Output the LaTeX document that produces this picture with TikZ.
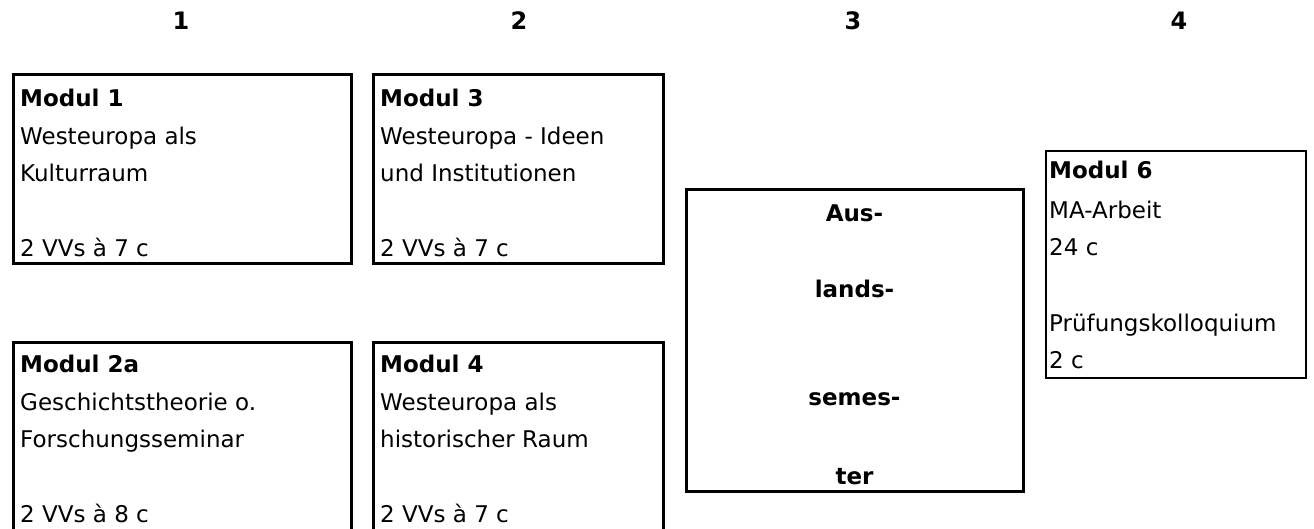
\documentclass[tikz,border=0pt]{standalone}
\usepackage{fontspec}
\setmainfont{DejaVu Sans}
\usepackage{tikz}

\tikzset{
    modbox/.style={draw, line width=3pt, inner sep=0pt, outer sep=0pt, anchor=north west},
    modtext/.style={anchor=north west, inner sep=0pt, align=left, font=\fontsize{23}{37.5}\selectfont},
    colnum/.style={inner sep=0pt, font=\fontsize{24}{28}\selectfont\bfseries}
}

\begin{document}
\begin{tikzpicture}[x=1pt, y=-1pt]
    \useasboundingbox (0,0) rectangle (1314,528);
    \clip (0,0) rectangle (1314,528);

    % semester numbers
    \node[colnum] (s1) at (181,21) {1};
    \node[colnum] (s2) at (519,21) {2};
    \node[colnum] (s3) at (853,21) {3};
    \node[colnum] (s4) at (1179,21) {4};

    % first row
    \node[modbox, minimum width=338pt, minimum height=189pt] (m1) at (13,74) {};
    \node[modtext] (t1) at ([xshift=7pt, yshift=-15pt]m1.north west)
        {\textbf{Modul 1}\\Westeuropa als\\Kulturraum\\[37.5pt]2 VVs à 7 c};

    \node[modbox, minimum width=290pt, minimum height=189pt] (m3) at (373,74) {};
    \node[modtext] (t3) at ([xshift=7pt, yshift=-15pt]m3.north west)
        {\textbf{Modul 3}\\Westeuropa - Ideen\\und Institutionen\\[37.5pt]2 VVs à 7 c};

    % second row
    \node[modbox, minimum width=338pt, minimum height=250pt] (m2a) at (13,342) {};
    \node[modtext] (t2a) at ([xshift=7pt, yshift=-13pt]m2a.north west)
        {\textbf{Modul 2a}\\Geschichtstheorie o.\\Forschungsseminar\\[37.5pt]2 VVs à 8 c};

    \node[modbox, minimum width=290pt, minimum height=250pt] (m4) at (373,342) {};
    \node[modtext] (t4) at ([xshift=7pt, yshift=-13pt]m4.north west)
        {\textbf{Modul 4}\\Westeuropa als\\historischer Raum\\[37.5pt]2 VVs à 7 c};

    % semester abroad
    \node[modbox, minimum width=337pt, minimum height=302pt] (ausl) at (686,189) {};
    \node[modtext, anchor=north, align=center, font=\fontsize{23}{37.5}\selectfont\bfseries] (taus)
        at ([yshift=-16pt]ausl.north) {Aus-\\[38.5pt]lands-\\[70.5pt]semes-\\[41.5pt]ter};

    % final module
    \node[modbox, line width=2.2pt, minimum width=260pt, minimum height=227pt] (m6) at (1046,151) {};
    \node[modtext] (t6) at ([xshift=3pt, yshift=-10pt]m6.north west)
        {\textbf{Modul 6}\\[2pt]MA-Arbeit\\24 c\\[38pt]Prüfungskolloquium\\2 c};
\end{tikzpicture}
\end{document}
